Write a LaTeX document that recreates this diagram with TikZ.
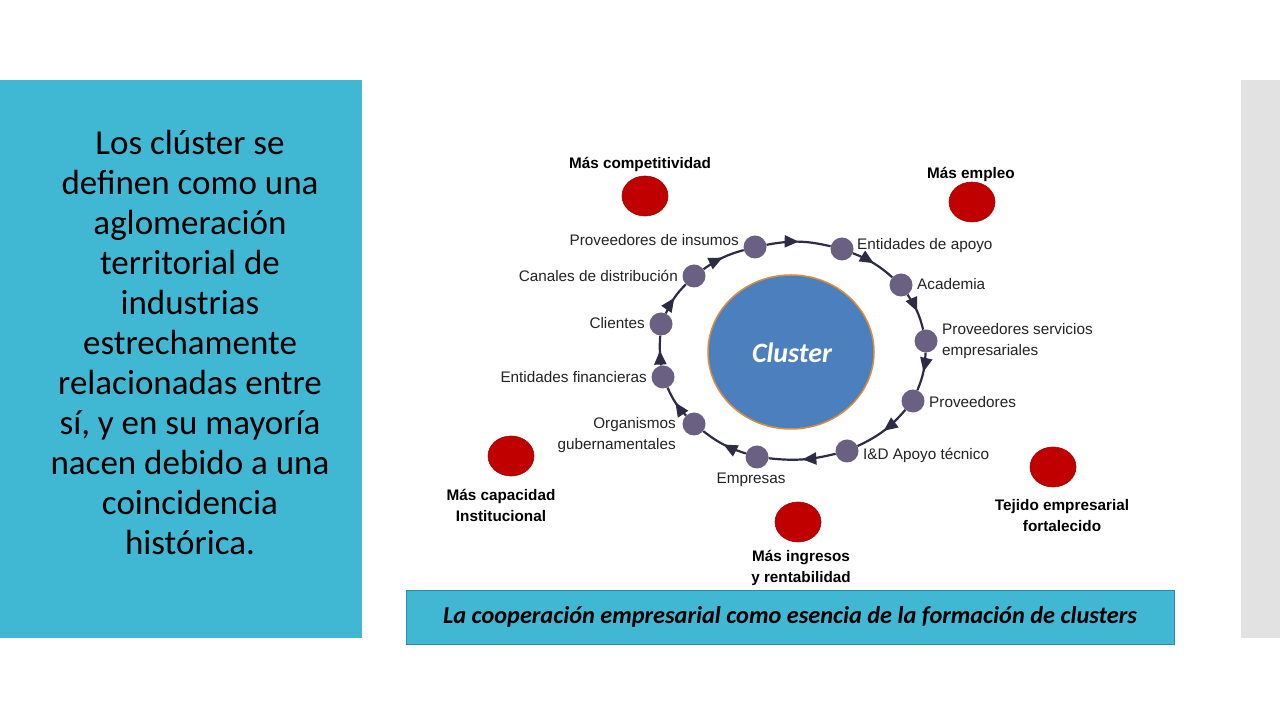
\documentclass[tikz,border=0pt]{standalone}
\usepackage{fontspec}
\setmainfont{Liberation Sans}
\newfontfamily\calfont{Carlito}
\usetikzlibrary{arrows.meta,decorations.markings,shapes.geometric}
\definecolor{panelcyan}{RGB}{65,184,211}
\definecolor{panelborder}{RGB}{40,140,165}
\definecolor{graybar}{RGB}{226,226,226}
\definecolor{clusterblue}{RGB}{75,127,190}
\definecolor{clusteredge}{RGB}{222,140,60}
\definecolor{ringnode}{RGB}{106,97,130}
\definecolor{ringline}{RGB}{45,44,68}
\definecolor{dotred}{RGB}{192,0,0}
\definecolor{labelgray}{RGB}{35,35,35}
\tikzset{
  ringdot/.style={circle, fill=ringnode, minimum size=23pt, inner sep=0pt},
  reddot/.style={ellipse, fill=dotred, draw=dotred!85!black, line width=0.6pt, minimum width=46pt, minimum height=40pt, inner sep=0pt},
  lbl/.style={font=\fontsize{15.3}{21}\selectfont, text=labelgray, inner sep=0pt},
  outlbl/.style={font=\bfseries\fontsize{15.3}{21}\selectfont, text=black, inner sep=0pt, align=center},
  flow/.style={draw=ringline, line width=2.2pt,
    postaction={decorate},
    decoration={markings, mark=at position 0.5 with {\arrow[ringline]{Triangle[length=14pt,width=12pt]}}}}
}
\begin{document}
\begin{tikzpicture}[x=1pt,y=1pt]
\useasboundingbox (0,0) rectangle (1280,720);
\fill[white] (0,0) rectangle (1280,720);
% left panel
\fill[panelcyan] (0,82) rectangle (362,640);
\node[font=\calfont\fontsize{35}{40}\selectfont, align=center, text=black] (intro) at (190,378)
  {Los clúster se\\definen como una\\aglomeración\\territorial de\\industrias\\estrechamente\\relacionadas entre\\sí, y en su mayoría\\nacen debido a una\\coincidencia\\histórica.};
% right gray bar
\fill[graybar] (1241,82) rectangle (1280,640);
% cluster
\node[ellipse, fill=clusterblue, draw=clusteredge, line width=1.5pt, minimum width=166pt, minimum height=154pt] (cluster) at (791,368) {};
\node[font=\calfont\bfseries\itshape\fontsize{28}{32}\selectfont, text=white] (clustertxt) at (792,367) {Cluster};
% ring nodes
\node[ringdot] (ins) at (755,473) {};
\node[ringdot] (apo) at (842,471) {};
\node[ringdot] (aca) at (901,435) {};
\node[ringdot] (pse) at (926,379) {};
\node[ringdot] (pro) at (913,319) {};
\node[ringdot] (imd) at (847,269) {};
\node[ringdot] (emp) at (757,263) {};
\node[ringdot] (org) at (694,296) {};
\node[ringdot] (fin) at (663,343) {};
\node[ringdot] (cli) at (661,396) {};
\node[ringdot] (can) at (694,444) {};
% ring connectors
\draw[flow] (ins) to[bend left=12] (apo);
\draw[flow] (apo) to[bend left=10] (aca);
\draw[flow] (aca) to[bend left=10] (pse);
\draw[flow] (pse) to[bend left=10] (pro);
\draw[flow] (pro) to[bend left=12] (imd);
\draw[flow] (imd) to[bend left=10] (emp);
\draw[flow] (emp) to[bend left=10] (org);
\draw[flow] (org) to[bend left=10] (fin);
\draw[flow] (fin) to[bend left=6] (cli);
\draw[flow] (cli) to[bend left=10] (can);
\draw[flow] (can) to[bend left=10] (ins);
% ring labels
\node[lbl, anchor=east] (lins) at (739,480) {Proveedores de insumos};
\node[lbl, anchor=west] (lapo) at (857,474) {Entidades de apoyo};
\node[lbl, anchor=west] (laca) at (917,436) {Academia};
\node[lbl, anchor=west, align=left] (lpse) at (942,379) {Proveedores servicios\\empresariales};
\node[lbl, anchor=west] (lpro) at (929,318) {Proveedores};
\node[lbl, anchor=west] (limd) at (863,265) {I\&D Apoyo técnico};
\node[lbl] (lemp) at (751,240) {Empresas};
\node[lbl, anchor=east, align=right] (lorg) at (676,285) {Organismos\\gubernamentales};
\node[lbl, anchor=east] (lfin) at (647,343) {Entidades financieras};
\node[lbl, anchor=east] (lcli) at (645,397) {Clientes};
\node[lbl, anchor=east] (lcan) at (678,444) {Canales de distribución};
% outcomes
\node[reddot] (dcomp) at (645,524) {};
\node[outlbl] (tcomp) at (640,556) {Más competitividad};
\node[reddot] (demp) at (972,518) {};
\node[outlbl] (templ) at (971,546) {Más empleo};
\node[reddot] (dcap) at (511,264) {};
\node[outlbl] (tcap) at (501,215) {Más capacidad\\Institucional};
\node[reddot] (dtej) at (1053,253) {};
\node[outlbl] (ttej) at (1062,204) {Tejido empresarial\\fortalecido};
\node[reddot] (ding) at (798,198) {};
\node[outlbl] (ting) at (801,152) {Más ingresos\\y rentabilidad};
% caption box
\node[draw=panelborder, fill=panelcyan, line width=0.8pt, minimum width=768pt, minimum height=54pt, inner sep=0pt,
      font=\calfont\bfseries\itshape\fontsize{24.3}{28}\selectfont] (caption) at (790,103)
  {La cooperación empresarial como esencia de la formación de clusters};
\end{tikzpicture}
\end{document}
